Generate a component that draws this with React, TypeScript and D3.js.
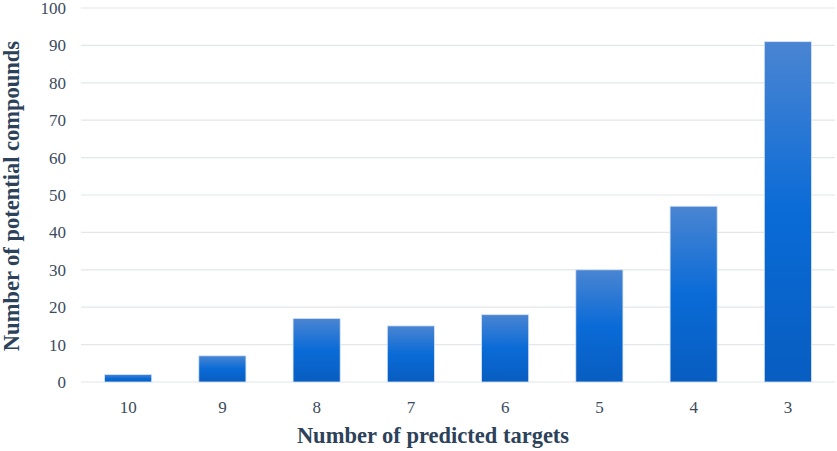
import React from 'react';
import * as d3 from 'd3';

const categories = ['10', '9', '8', '7', '6', '5', '4', '3'];
const compoundCounts = [2, 7, 17, 15, 18, 30, 47, 91];
const yTicks = [0, 10, 20, 30, 40, 50, 60, 70, 80, 90, 100];

const width = 837;
const height = 451;
const margin = { top: 8, right: 2, bottom: 69, left: 81 };
const serif = "'Liberation Serif', 'Times New Roman', serif";

const App: React.FC = () => {
    const innerW = width - margin.left - margin.right;
    const innerH = height - margin.top - margin.bottom;

    const x = d3.scaleBand<string>()
        .domain(categories)
        .range([0, innerW])
        .paddingInner(0.5)
        .paddingOuter(0.25);

    const y = d3.scaleLinear()
        .domain([0, 100])
        .range([innerH, 0]);

    const textColor = '#3b4b5c';
    const titleColor = '#2c425a';

    return (
        <svg width={width} height={height} style={{ position: 'absolute', left: 0, top: 0, background: '#fff' }}>
            <defs>
                <linearGradient id="barFill" x1="0" y1="0" x2="0" y2="1">
                    <stop offset="0%" stopColor="#4a85d2" />
                    <stop offset="50%" stopColor="#0a6bd7" />
                    <stop offset="100%" stopColor="#085dc0" />
                </linearGradient>
            </defs>
            <g transform={`translate(${margin.left},${margin.top})`}>
                {/* gridlines */}
                {yTicks.map(t => (
                    <line key={t} x1={0} x2={innerW} y1={y(t)} y2={y(t)}
                        stroke="#e3e6ea" strokeWidth={1.2} />
                ))}
                {/* y tick labels */}
                {yTicks.map(t => (
                    <text key={`l${t}`} x={-15} y={y(t)} dy="0.35em" textAnchor="end"
                        fontFamily={serif} fontSize={17} fill={textColor}>{t}</text>
                ))}
                {/* bars */}
                {categories.map((c, i) => (
                    <rect key={c} x={x(c)} y={y(compoundCounts[i])}
                        width={x.bandwidth()} height={innerH - y(compoundCounts[i])}
                        fill="url(#barFill)" stroke="#d6e4f7" strokeWidth={0.8} />
                ))}
                {/* x tick labels */}
                {categories.map(c => (
                    <text key={`x${c}`} x={(x(c) ?? 0) + x.bandwidth() / 2} y={innerH + 25}
                        dy="0.35em" textAnchor="middle" fontFamily={serif} fontSize={17}
                        fill={textColor}>{c}</text>
                ))}
            </g>
            <text x={433} y={443} textAnchor="middle" fontFamily={serif} fontSize={22.5}
                fontWeight="bold" fill={titleColor}>Number of predicted targets</text>
            <text transform={`translate(19,${margin.top + 188}) rotate(-90)`} textAnchor="middle"
                fontFamily={serif} fontSize={22.5} fontWeight="bold" fill={titleColor}>Number of potential compounds</text>
        </svg>
    );
};

export default App;
